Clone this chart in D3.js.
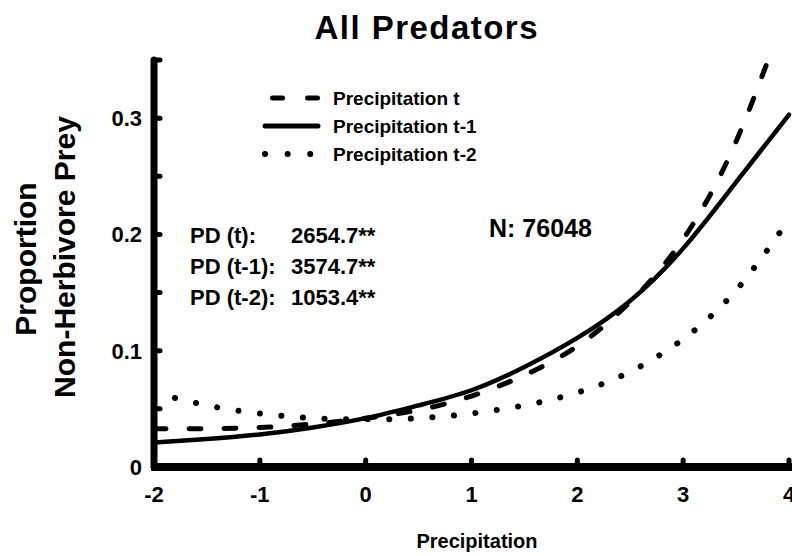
<!DOCTYPE html>
<html>
<head>
<meta charset="utf-8">
<script src="https://cdn.jsdelivr.net/npm/d3@7"></script>
<style>
	body { margin: 0; background: #fff; }
	text { font-family: "Liberation Sans", Arial, Helvetica, sans-serif; font-weight: bold; fill: #000; }
</style>
</head>
<body>
<div id="chart"></div>
<script>
const width = 792,
	height = 556;

// precipitation (standardised) where curves were read
const precip = [-2, -1.5, -1, -0.5, 0, 0.5, 1, 1.5, 2, 2.5, 3, 3.5, 4];

// proportion of non-herbivore prey, one array per lag
const precipT = [0.033, 0.033, 0.034, 0.037, 0.042, 0.049, 0.061, 0.079, 0.104, 0.142, 0.196, 0.280, 0.400];
const precipT1 = [0.021, 0.024, 0.028, 0.034, 0.042, 0.053, 0.066, 0.086, 0.111, 0.143, 0.188, 0.245, 0.303];
const precipT2 = [0.064, 0.053, 0.046, 0.042, 0.041, 0.042, 0.046, 0.053, 0.064, 0.082, 0.110, 0.152, 0.213];

const seriesNames = ['Precipitation t', 'Precipitation t-1', 'Precipitation t-2'];

const xTicks = [-2, -1, 0, 1, 2, 3, 4];
const yTicks = [0, 0.05, 0.1, 0.15, 0.2, 0.25, 0.3, 0.35];
const yTickLabels = [0, 0.1, 0.2, 0.3];

const pdLabels = ['PD (t):', 'PD (t-1):', 'PD (t-2):'];
const pdValues = ['2654.7**', '3574.7**', '1053.4**'];
const sampleSize = 'N: 76048';

const plot = { left: 154, right: 789, top: 60, bottom: 467 };

const svg = d3.select('#chart').append('svg')
	.attr('width', width)
	.attr('height', height);

const x = d3.scaleLinear().domain([-2, 4]).range([plot.left, plot.right]);
const y = d3.scaleLinear().domain([0, 0.35]).range([plot.bottom, plot.top]);

// styles for each lag
const styles = [
	{ width: 5, dash: '12,23' },
	{ width: 4.5, dash: null },
	{ width: 6, dash: '0.1,21.5' }
];

svg.append('clipPath').attr('id', 'plotClip')
	.append('rect')
	.attr('x', plot.left)
	.attr('y', plot.top - 2)
	.attr('width', width - plot.left)
	.attr('height', plot.bottom - plot.top + 2);

const line = d3.line()
	.x((d, i) => x(precip[i]))
	.y(d => y(d))
	.curve(d3.curveNatural);

const curves = svg.append('g').attr('clip-path', 'url(#plotClip)');

[precipT, precipT1, precipT2].forEach((vals, i) => {
	curves.append('path')
		.attr('d', line(vals))
		.attr('fill', 'none')
		.attr('stroke', '#000')
		.attr('stroke-width', styles[i].width)
		.attr('stroke-linecap', 'round')
		.attr('stroke-dasharray', styles[i].dash);
});

// axes - thick lines with round nubs as ticks
const axisG = svg.append('g');

axisG.append('line')
	.attr('x1', plot.left).attr('x2', plot.left)
	.attr('y1', plot.top).attr('y2', plot.bottom)
	.attr('stroke', '#000').attr('stroke-width', 7)
	.attr('stroke-linecap', 'round');

axisG.append('line')
	.attr('x1', plot.left - 3).attr('x2', width + 5)
	.attr('y1', plot.bottom).attr('y2', plot.bottom)
	.attr('stroke', '#000').attr('stroke-width', 8);

axisG.selectAll('.yNub')
	.data(yTicks)
	.join('line')
	.attr('class', 'yNub')
	.attr('x1', plot.left).attr('x2', plot.left + 6)
	.attr('y1', d => y(d)).attr('y2', d => y(d))
	.attr('stroke', '#000').attr('stroke-width', 5)
	.attr('stroke-linecap', 'round');

axisG.selectAll('.xNub')
	.data(xTicks)
	.join('line')
	.attr('class', 'xNub')
	.attr('x1', d => x(d)).attr('x2', d => x(d))
	.attr('y1', plot.bottom).attr('y2', plot.bottom - 7)
	.attr('stroke', '#000').attr('stroke-width', 5)
	.attr('stroke-linecap', 'round');

axisG.selectAll('.yLab')
	.data(yTickLabels)
	.join('text')
	.attr('class', 'yLab')
	.attr('x', 142)
	.attr('y', d => y(d) + 8)
	.attr('text-anchor', 'end')
	.style('font-size', '22px')
	.text(d => d);

axisG.selectAll('.xLab')
	.data(xTicks)
	.join('text')
	.attr('class', 'xLab')
	.attr('x', d => x(d))
	.attr('y', 502)
	.attr('text-anchor', 'middle')
	.style('font-size', '22px')
	.text(d => d);

// titles
svg.append('text')
	.attr('x', 426).attr('y', 39)
	.attr('text-anchor', 'middle')
	.attr('textLength', 223)
	.attr('lengthAdjust', 'spacing')
	.style('font-size', '33px')
	.text('All Predators');

svg.append('text')
	.attr('x', 477).attr('y', 548)
	.attr('text-anchor', 'middle')
	.style('font-size', '20px')
	.text('Precipitation');

svg.append('text')
	.attr('transform', 'translate(36,259) rotate(-90)')
	.attr('text-anchor', 'middle')
	.style('font-size', '30px')
	.text('Proportion');

svg.append('text')
	.attr('transform', 'translate(75,257) rotate(-90)')
	.attr('text-anchor', 'middle')
	.style('font-size', '30px')
	.text('Non-Herbivore Prey');

// legend
const legendRows = [98, 126, 154];
const legend = svg.append('g');

legend.append('line')
	.attr('x1', 272.5).attr('x2', 317.5)
	.attr('y1', legendRows[0]).attr('y2', legendRows[0])
	.attr('stroke', '#000').attr('stroke-width', 5)
	.attr('stroke-linecap', 'round')
	.attr('stroke-dasharray', '10,25');

legend.append('line')
	.attr('x1', 265).attr('x2', 318)
	.attr('y1', legendRows[1]).attr('y2', legendRows[1])
	.attr('stroke', '#000').attr('stroke-width', 5)
	.attr('stroke-linecap', 'round');

legend.append('line')
	.attr('x1', 265).attr('x2', 311)
	.attr('y1', legendRows[2]).attr('y2', legendRows[2])
	.attr('stroke', '#000').attr('stroke-width', 6)
	.attr('stroke-linecap', 'round')
	.attr('stroke-dasharray', '0.1,22.5');

legend.selectAll('.legText')
	.data(seriesNames)
	.join('text')
	.attr('class', 'legText')
	.attr('x', 333)
	.attr('y', (d, i) => legendRows[i] + 7)
	.style('font-size', '19px')
	.text(d => d);

// model stats
const pdRows = [243, 274, 305];
svg.selectAll('.pdLab')
	.data(pdLabels)
	.join('text')
	.attr('class', 'pdLab')
	.attr('x', 190)
	.attr('y', (d, i) => pdRows[i])
	.style('font-size', '22px')
	.text(d => d);

svg.selectAll('.pdVal')
	.data(pdValues)
	.join('text')
	.attr('class', 'pdVal')
	.attr('x', 291)
	.attr('y', (d, i) => pdRows[i])
	.style('font-size', '22px')
	.text(d => d);

svg.append('text')
	.attr('x', 489).attr('y', 237)
	.style('font-size', '25px')
	.text(sampleSize);
</script>
</body>
</html>
